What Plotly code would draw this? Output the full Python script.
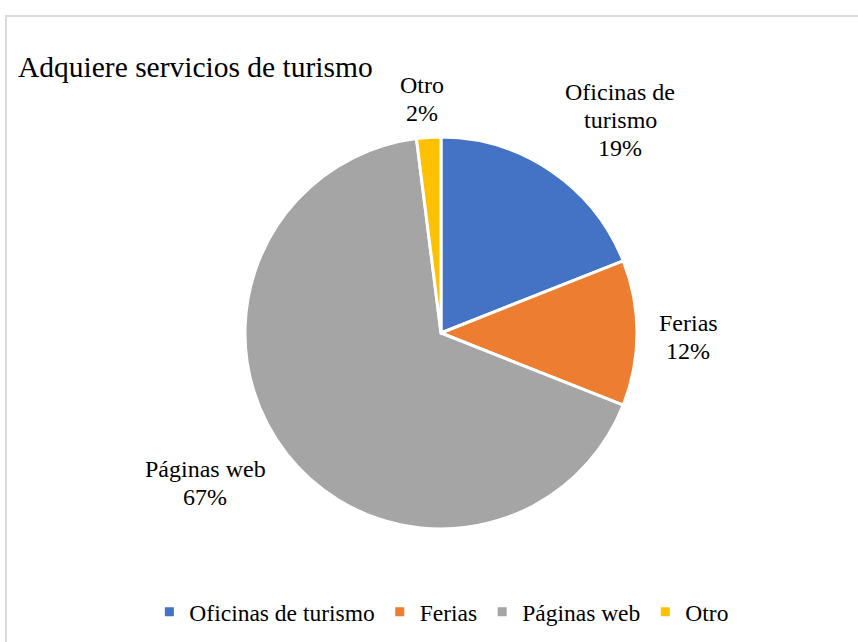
import plotly.graph_objects as go

W, H = 858, 642

categories = ["Oficinas de turismo", "Ferias", "Páginas web", "Otro"]
percentages = [19, 12, 67, 2]
label_lines = [["Oficinas de", "turismo"], ["Ferias"], ["Páginas web"], ["Otro"]]
colors = ["#4472C4", "#ED7D31", "#A5A5A5", "#FFC000"]

# label block centres in pixels (x, y from top)
label_pos = [(620, 120), (688, 337), (205, 483), (422, 99)]
LINE_GAP = 27.5

FONT = "Liberation Serif"

cx, cy, r = 441, 333, 196

fig = go.Figure(
    go.Pie(
        labels=categories,
        values=percentages,
        sort=False,
        direction="clockwise",
        rotation=0,
        marker=dict(colors=colors, line=dict(color="white", width=3)),
        textinfo="none",
        hoverinfo="label+percent",
        domain=dict(
            x=[(cx - r) / W, (cx + r) / W],
            y=[1 - (cy + r) / H, 1 - (cy - r) / H],
        ),
    )
)

annotations = []
for lines, v, (px, py) in zip(label_lines, percentages, label_pos):
    rows = lines + [f"{v}%"]
    n = len(rows)
    for i, row in enumerate(rows):
        y_px = py + (i - (n - 1) / 2) * LINE_GAP
        annotations.append(
            dict(
                text=row,
                x=px / W,
                y=1 - y_px / H,
                xref="paper",
                yref="paper",
                xanchor="center",
                yanchor="middle",
                showarrow=False,
                font=dict(family=FONT, size=24, color="#000000"),
            )
        )

annotations.append(
    dict(
        text="Adquiere servicios de turismo",
        x=16 / W,
        y=1 - 67 / H,
        xref="paper",
        yref="paper",
        xanchor="left",
        yanchor="middle",
        showarrow=False,
        font=dict(family=FONT, size=29.5, color="#000000"),
    )
)

fig.update_layout(
    width=W,
    height=H,
    margin=dict(l=0, r=0, t=0, b=0),
    paper_bgcolor="white",
    plot_bgcolor="white",
    annotations=annotations,
    showlegend=True,
    legend=dict(
        orientation="h",
        x=0.515,
        xanchor="center",
        y=1 - 612 / H,
        yanchor="middle",
        font=dict(family=FONT, size=23.5, color="#000000"),
        traceorder="normal",
    ),
    shapes=[
        dict(
            type="rect",
            xref="paper",
            yref="paper",
            x0=6 / W,
            x1=1.05,
            y0=-0.05,
            y1=1 - 16 / H,
            line=dict(color="#D9D9D9", width=2),
            fillcolor="rgba(0,0,0,0)",
            layer="below",
        )
    ],
)

fig.write_html("out.html")
